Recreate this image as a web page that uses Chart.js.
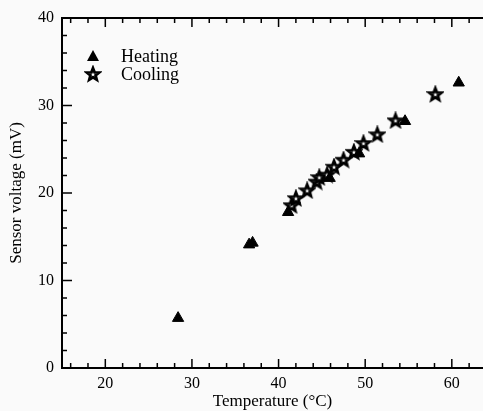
<!DOCTYPE html>
<html>
<head>
<meta charset="utf-8">
<script src="https://cdn.jsdelivr.net/npm/chart.js@4"></script>
<style>
  html, body { margin: 0; padding: 0; background: #fafafa; }
</style>
</head>
<body>
<canvas id="chart" width="483" height="411"></canvas>
<script>
// values
let heatT = [28.4, 36.6, 37.0, 41.1, 45.9, 49.3, 54.6, 60.8];
let heatV = [5.7, 14.1, 14.3, 17.8, 21.7, 24.5, 28.2, 32.6];
let coolT = [41.5, 42.0, 43.3, 44.4, 44.7, 45.6, 46.4, 47.5, 48.7, 49.8, 51.4, 53.5, 58.1];
let coolV = [18.6, 19.4, 20.3, 21.3, 21.8, 22.1, 23.0, 23.8, 24.7, 25.7, 26.7, 28.3, 31.3];

let xLabels = [20, 30, 40, 50, 60];
let yLabels = [0, 10, 20, 30, 40];
let xMin = 15, xMax = 63.6, yMin = 0, yMax = 40;
let minorStep = 2;

let serif = "'Liberation Serif', 'DejaVu Serif', serif";

function pts(xs, ys) {
  let out = [];
  for (let i = 0; i < xs.length; i++) out.push({ x: xs[i], y: ys[i] });
  return out;
}

function starImage() {
  let c = document.createElement("canvas");
  c.width = 18;
  c.height = 18;
  let g = c.getContext("2d");
  g.beginPath();
  for (let i = 0; i < 10; i++) {
    let r = i % 2 === 0 ? 6.3 : 2.7;
    let a = -Math.PI / 2 + i * Math.PI / 5;
    let px = 9 + r * Math.cos(a);
    let py = 9.5 + r * Math.sin(a);
    if (i === 0) g.moveTo(px, py); else g.lineTo(px, py);
  }
  g.closePath();
  g.fillStyle = "#fff";
  g.fill();
  g.lineWidth = 2.8;
  g.strokeStyle = "#000";
  g.stroke();
  return c;
}
let star = starImage();

function everyStep(scale) {
  let t = [];
  let v = Math.ceil(scale.min / minorStep) * minorStep;
  for (; v <= scale.max + 1e-9; v += minorStep) t.push({ value: v });
  scale.ticks = t;
}

function labelOf(list) {
  return function (value) {
    return list.indexOf(value) >= 0 ? String(value) : "";
  };
}

// inward ticks on bottom, top and left, plus top frame line and legend
let frame = {
  id: "frame",
  afterDraw(chart) {
    let ctx = chart.ctx;
    let a = chart.chartArea;
    let xs = chart.scales.x;
    let ys = chart.scales.y;
    ctx.save();
    ctx.strokeStyle = "#000";
    ctx.lineWidth = 2;
    ctx.beginPath();
    ctx.moveTo(a.left - 1, a.top);
    ctx.lineTo(a.right, a.top);
    ctx.stroke();

    ctx.lineWidth = 1.5;
    ctx.beginPath();
    xs.ticks.forEach(function (t) {
      let px = xs.getPixelForValue(t.value);
      let len = xLabels.indexOf(t.value) >= 0 ? 9 : 5;
      ctx.moveTo(px, a.bottom);
      ctx.lineTo(px, a.bottom - len);
      ctx.moveTo(px, a.top);
      ctx.lineTo(px, a.top + len);
    });
    ys.ticks.forEach(function (t) {
      let py = ys.getPixelForValue(t.value);
      let len = yLabels.indexOf(t.value) >= 0 ? 10 : 5;
      ctx.moveTo(a.left, py);
      ctx.lineTo(a.left + len, py);
    });
    ctx.stroke();

    let lx = 93, ly = 56;
    ctx.fillStyle = "#000";
    ctx.beginPath();
    ctx.moveTo(lx, ly - 6);
    ctx.lineTo(lx + 6, ly + 5);
    ctx.lineTo(lx - 6, ly + 5);
    ctx.closePath();
    ctx.fill();
    ctx.drawImage(star, lx - 9, ly + 18 - 9);
    ctx.font = "18px " + serif;
    ctx.textBaseline = "middle";
    ctx.textAlign = "left";
    ctx.fillText("Heating", 121, ly + 1);
    ctx.fillText("Cooling", 121, ly + 19);
    ctx.restore();
  }
};

new Chart(document.getElementById("chart"), {
  type: "scatter",
  data: {
    datasets: [
      {
        label: "Heating",
        data: pts(heatT, heatV),
        pointStyle: "triangle",
        pointRadius: 6.5,
        pointHoverRadius: 6.5,
        backgroundColor: "#000",
        borderColor: "#000",
        borderWidth: 1
      },
      {
        label: "Cooling",
        data: pts(coolT, coolV),
        pointStyle: star,
        pointRadius: 8,
        backgroundColor: "#000",
        borderColor: "#000"
      }
    ]
  },
  options: {
    responsive: false,
    animation: false,
    layout: { autoPadding: false, padding: { top: 18, right: 0, left: 0, bottom: 0 } },
    plugins: {
      legend: { display: false },
      tooltip: { enabled: false }
    },
    scales: {
      x: {
        type: "linear",
        min: xMin,
        max: xMax,
        afterBuildTicks: everyStep,
        afterFit: function (s) { s.height = 43; s.paddingRight = 0; s.paddingLeft = 0; },
        grid: { display: false, drawTicks: false },
        border: { display: true, color: "#000", width: 2 },
        ticks: {
          autoSkip: false,
          maxRotation: 0,
          padding: 6,
          color: "#000",
          font: { family: serif, size: 16 },
          callback: labelOf(xLabels)
        },
        title: {
          display: true,
          text: "Temperature (\u00B0C)",
          color: "#000",
          font: { family: serif, size: 17 },
          padding: { top: 0, bottom: -1 }
        }
      },
      y: {
        type: "linear",
        min: yMin,
        max: yMax,
        afterBuildTicks: everyStep,
        afterFit: function (s) { s.width = 62; },
        grid: { display: false, drawTicks: false },
        border: { display: true, color: "#000", width: 2 },
        ticks: {
          autoSkip: false,
          padding: 8,
          color: "#000",
          font: { family: serif, size: 16 },
          callback: labelOf(yLabels)
        },
        title: {
          display: true,
          text: "Sensor voltage (mV)",
          color: "#000",
          font: { family: serif, size: 17 },
          padding: { top: 6, bottom: 0 }
        }
      }
    }
  },
  plugins: [frame]
});
</script>
</body>
</html>
